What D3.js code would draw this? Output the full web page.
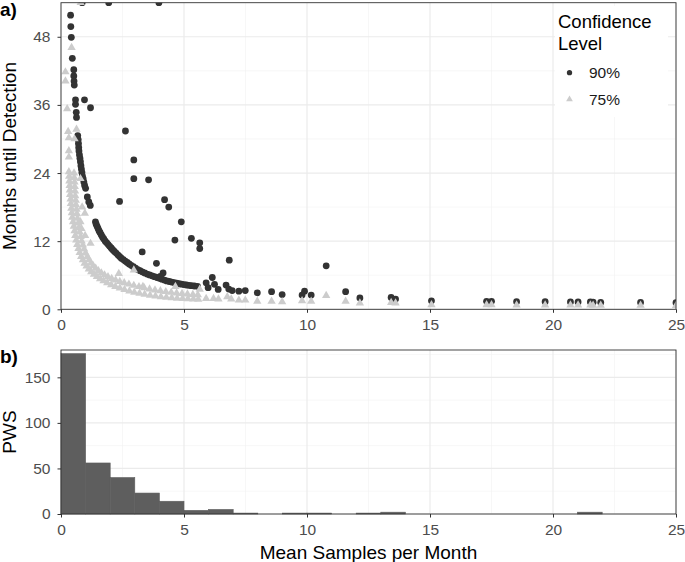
<!DOCTYPE html>
<html>
<head>
<meta charset="utf-8">
<script src="https://cdn.jsdelivr.net/npm/d3@7"></script>
<style>
  body { margin: 0; background: #fff; }
  text { font-family: "Liberation Sans", Arial, sans-serif; }
</style>
</head>
<body>
<div id="chart"></div>
<script>
// ---- data ----
// panel a: [mean samples per month, months until detection]
const points90 = [
  [0.86,54],[1.94,54],[3.98,54],
  [0.39,51.8],[0.40,49.8],[0.42,47.9],[0.46,44.2],[0.52,42.2],[0.52,41.1],[0.53,40.2],[0.54,39.5],
  [0.59,36.9],[0.59,36.1],[0.62,34.7],[0.63,33.8],[0.955,36.9],[1.2,35.5],[2.62,31.4],
  [0.68,30.6],[0.70,29.9],[0.71,29.2],[0.72,28.5],[0.73,27.9],[0.75,27.2],[0.77,26.6],[0.79,26.0],
  [0.81,25.3],[0.83,24.7],[0.85,24.1],[0.87,23.5],[0.90,23.0],[0.93,22.4],[0.96,21.8],[1.00,21.3],
  [1.07,19.8],[1.13,18.9],[1.19,18.3],
  [1.40,15.4],[1.43,15.0],[1.47,14.6],[1.51,14.2],[1.55,13.8],[1.59,13.5],[1.64,13.1],[1.69,12.7],
  [1.74,12.4],[1.80,12.0],[1.86,11.7],[1.92,11.4],[1.98,11.1],[2.04,10.8],[2.10,10.5],[2.17,10.2],
  [2.24,9.9],[2.31,9.6],[2.38,9.3],[2.45,9.0],[2.53,8.75],[2.61,8.5],[2.69,8.25],[2.77,8.0],
  [2.85,7.75],[2.94,7.5],[3.03,7.25],[3.12,7.0],[3.21,6.8],[3.30,6.6],[3.40,6.4],[3.50,6.2],
  [3.60,6.05],[3.70,5.9],[3.80,5.75],[3.90,5.6],[4.00,5.45],[4.10,5.3],[4.20,5.15],[4.30,5.0],
  [4.40,4.9],[4.50,4.8],[4.60,4.7],[4.70,4.6],[4.80,4.5],[4.90,4.42],[5.00,4.35],[5.10,4.28],
  [5.20,4.22],[5.30,4.16],[5.42,4.1],[5.55,4.05],
  [2.96,26.3],[2.96,23.0],[3.56,22.8],[2.38,19.0],[4.21,19.3],[4.38,18.0],[4.89,15.4],[4.63,12.2],
  [5.30,12.5],[5.64,11.7],[5.64,10.7],[3.30,10.1],[3.88,8.1],[4.15,6.4],[4.04,5.8],[6.84,8.65],
  [5.90,4.67],[5.98,3.8],[6.15,5.6],[6.24,4.4],[6.39,3.5],[6.71,4.26],[6.82,3.56],[6.96,3.3],
  [7.23,3.2],[7.49,3.3],[7.98,2.9],[8.56,3.1],[8.99,2.6],[9.90,3.2],[9.80,2.5],[10.17,2.5],
  [10.78,7.65],[11.57,3.1],[12.15,2.0],[13.42,2.1],[13.6,1.8],[15.06,1.5],[17.3,1.4],[17.5,1.4],
  [18.52,1.33],[19.68,1.33],[20.71,1.3],[21.02,1.3],[21.52,1.3],[21.63,1.25],[21.94,1.2],
  [23.56,1.2],[25.0,1.15]
];

const points75 = [
  [0.80,54],[0.43,46.1],[0.18,41.8],[0.18,40.2],[0.25,35.3],[0.29,31.3],[0.32,30.2],[0.63,31.7],
  [0.55,30.0],[0.32,27.9],[0.32,26.8],[0.79,23.0],[0.86,18.0],[0.97,16.9],[0.79,15.4],[0.83,14.2],
  [0.98,13.0],[1.2,11.6],[2.35,6.3],[2.96,6.9],[3.33,4.0],[4.65,4.0],[5.64,3.5],
  // lower edge of the dense band
  [0.32,24.2],[0.33,23.4],[0.34,22.6],[0.35,21.8],[0.36,21.0],[0.37,20.2],[0.39,19.4],[0.40,18.6],
  [0.42,17.8],[0.44,17.0],[0.46,16.2],[0.49,15.4],[0.52,14.6],[0.55,13.8],[0.58,13.0],[0.62,12.2],
  [0.66,11.4],[0.71,10.7],[0.76,10.0],[0.82,9.3],[0.89,8.7],[0.96,8.1],[1.04,7.6],[1.13,7.1],
  [1.23,6.6],[1.34,6.15],[1.46,5.75],[1.59,5.35],[1.73,5.0],[1.88,4.65],[2.04,4.3],[2.21,4.0],
  [2.39,3.72],[2.58,3.46],[2.78,3.22],[2.98,3.0],[3.19,2.8],[3.40,2.62],[3.62,2.46],[3.84,2.32],
  [4.06,2.2],[4.28,2.1],[4.50,2.02],[4.72,1.95],[4.94,1.89],[5.16,1.84],[5.38,1.8],[5.58,1.76],
  // upper edge of the dense band
  [0.53,24.0],[0.54,23.2],[0.55,22.4],[0.56,21.6],[0.57,20.8],[0.58,20.0],[0.60,19.2],[0.61,18.4],
  [0.63,17.6],[0.65,16.8],[0.67,16.0],[0.70,15.2],[0.73,14.4],[0.76,13.6],[0.80,12.8],[0.84,12.0],
  [0.89,11.3],[0.94,10.6],[1.00,9.9],[1.07,9.3],[1.14,8.7],[1.22,8.15],[1.31,7.65],[1.41,7.2],
  [1.52,6.8],[1.64,6.4],[1.77,6.05],[1.91,5.72],[2.06,5.42],[2.22,5.15],[2.39,4.9],[2.57,4.65],
  [2.76,4.42],[2.96,4.2],[3.17,3.98],[3.38,3.78],[3.60,3.58],[3.82,3.4],[4.04,3.24],[4.26,3.1],
  [4.48,2.97],[4.70,2.86],[4.92,2.76],[5.14,2.67],[5.36,2.6],[5.56,2.54],
  // sparse points to the right
  [5.9,1.9],[6.2,1.9],[6.4,1.8],[6.76,2.2],[6.92,1.8],[7.23,1.6],[7.49,1.6],[7.98,1.4],[8.56,1.4],
  [8.99,1.3],[9.8,1.5],[10.17,1.4],[10.78,2.4],[11.57,1.4],[12.15,1.1],[13.42,1.2],[13.6,1.1],
  [15.06,0.8],[17.3,0.8],[17.5,0.8],[18.52,0.75],[19.68,0.75],[20.71,0.75],[21.02,0.75],
  [21.52,0.75],[21.63,0.7],[21.94,0.7],[23.56,0.7],[25.0,0.65]
];

// panel b: histogram, bins of width 1 starting at 0
const binCounts = [176,56,40,23,14,4,5,1,0,1,1,0,1,2,0,0,0,0,0,0,0,2,0,0,0];

const xTicks = [0,5,10,15,20,25];
const xMinor = [2.5,7.5,12.5,17.5,22.5];
const yTicksA = [0,12,24,36,48];
const yMinorA = [6,18,30,42];
const yTicksB = [0,50,100,150];
const yMinorB = [25,75,125,175];

const legendItems = [
  {label: "90%", shape: "circle", color: "#333333"},
  {label: "75%", shape: "triangle", color: "#cccccc"}
];

// ---- layout ----
const width = 685, height = 562;
const left = 61, right = 676;
const a = {top: 2.7, bottom: 309.3};
const b = {top: 350, bottom: 514};

const svg = d3.select("#chart")
  .append("svg")
    .attr("width", width)
    .attr("height", height);

const x = d3.scaleLinear().domain([0, 25]).range([left, right]);
const yA = d3.scaleLinear().domain([0, 54]).range([a.bottom, a.top]);
const yB = d3.scaleLinear().domain([0, 180]).range([b.bottom, b.top]);

function grid(g, yScale, top, bottom, yMaj, yMin) {
  g.selectAll(".xmin").data(xMinor).enter().append("line")
    .attr("x1", d => x(d)).attr("x2", d => x(d)).attr("y1", top).attr("y2", bottom)
    .attr("stroke", "#f2f2f2").attr("stroke-width", 0.6);
  g.selectAll(".ymin").data(yMin).enter().append("line")
    .attr("x1", left).attr("x2", right).attr("y1", d => yScale(d)).attr("y2", d => yScale(d))
    .attr("stroke", "#f2f2f2").attr("stroke-width", 0.6);
  g.selectAll(".xmaj").data(xTicks).enter().append("line")
    .attr("x1", d => x(d)).attr("x2", d => x(d)).attr("y1", top).attr("y2", bottom)
    .attr("stroke", "#ebebeb").attr("stroke-width", 1.2);
  g.selectAll(".ymaj").data(yMaj).enter().append("line")
    .attr("x1", left).attr("x2", right).attr("y1", d => yScale(d)).attr("y2", d => yScale(d))
    .attr("stroke", "#ebebeb").attr("stroke-width", 1.2);
}

function styleAxis(g) {
  g.select(".domain").remove();
  g.selectAll(".tick line").attr("stroke", "#333");
  g.selectAll(".tick text")
    .attr("fill", "#4d4d4d")
    .attr("font-size", "15.5px")
    .attr("font-family", '"Liberation Sans", Arial, sans-serif');
}

// ---- panel a ----
grid(svg.append("g"), yA, a.top, a.bottom, yTicksA, yMinorA);

svg.append("clipPath").attr("id", "clipA")
  .append("rect")
    .attr("x", left).attr("y", a.top)
    .attr("width", right - left).attr("height", a.bottom - a.top);

const pts = svg.append("g").attr("clip-path", "url(#clipA)");
pts.selectAll(".p90").data(points90).enter().append("circle")
  .attr("cx", d => x(d[0]))
  .attr("cy", d => yA(d[1]))
  .attr("r", 3.4)
  .attr("fill", "#333333");

const tri = d3.symbol().type(d3.symbolTriangle).size(30);
pts.selectAll(".p75").data(points75).enter().append("path")
  .attr("d", tri)
  .attr("transform", d => `translate(${x(d[0])},${yA(d[1])})`)
  .attr("fill", "#cccccc");

svg.append("rect")
  .attr("x", left).attr("y", a.top)
  .attr("width", right - left).attr("height", a.bottom - a.top)
  .attr("fill", "none").attr("stroke", "#333").attr("stroke-width", 0.9);

svg.append("g")
  .attr("transform", `translate(0,${a.bottom})`)
  .call(d3.axisBottom(x).tickValues(xTicks).tickSize(3.5).tickPadding(6.2))
  .call(styleAxis);

svg.append("g")
  .attr("transform", `translate(${left},0)`)
  .call(d3.axisLeft(yA).tickValues(yTicksA).tickSize(3.5).tickPadding(7))
  .call(styleAxis);

// legend
const leg = svg.append("g");
leg.append("rect")
  .attr("x", 555).attr("y", 6).attr("width", 113).attr("height", 111)
  .attr("fill", "#fff");
leg.selectAll(".lt").data(["Confidence", "Level"]).enter().append("text")
  .attr("x", 558)
  .attr("y", (d, i) => 28.3 + i * 21.7)
  .attr("font-size", "18.5px")
  .attr("fill", "#000")
  .text(d => d);
const items = leg.selectAll(".li").data(legendItems).enter().append("g")
  .attr("transform", (d, i) => `translate(569.5,${72.7 + i * 26.6})`);
items.append("path")
  .attr("d", d => d.shape === "circle"
    ? d3.symbol().type(d3.symbolCircle).size(22)()
    : d3.symbol().type(d3.symbolTriangle).size(20)())
  .attr("fill", d => d.color);
items.append("text")
  .attr("x", 19.5).attr("y", 5.6)
  .attr("font-size", "15.5px")
  .attr("fill", "#1a1a1a")
  .text(d => d.label);

// ---- panel b ----
grid(svg.append("g"), yB, b.top, b.bottom, yTicksB, yMinorB);

svg.append("g").selectAll("rect").data(binCounts).enter().append("rect")
  .attr("x", (d, i) => x(i))
  .attr("width", (d, i) => x(i + 1) - x(i))
  .attr("y", d => yB(d))
  .attr("height", d => yB(0) - yB(d))
  .attr("fill", "#5e5e5e")
  .attr("stroke", d => d > 0 ? "#5e5e5e" : "none")
  .attr("stroke-width", 0.6);

svg.append("rect")
  .attr("x", left).attr("y", b.top)
  .attr("width", right - left).attr("height", b.bottom - b.top)
  .attr("fill", "none").attr("stroke", "#333").attr("stroke-width", 0.9);

svg.append("g")
  .attr("transform", `translate(0,${b.bottom})`)
  .call(d3.axisBottom(x).tickValues(xTicks).tickSize(3.5).tickPadding(6.5))
  .call(styleAxis);

svg.append("g")
  .attr("transform", `translate(${left},0)`)
  .call(d3.axisLeft(yB).tickValues(yTicksB).tickSize(3.5).tickPadding(7))
  .call(styleAxis);

// ---- titles ----
svg.append("text")
  .attr("transform", `translate(15.5,${(a.top + a.bottom) / 2}) rotate(-90)`)
  .attr("text-anchor", "middle")
  .attr("font-size", "19px")
  .text("Months until Detection");

svg.append("text")
  .attr("transform", `translate(15.5,${(b.top + b.bottom) / 2}) rotate(-90)`)
  .attr("text-anchor", "middle")
  .attr("font-size", "19px")
  .text("PWS");

svg.append("text")
  .attr("x", (left + right) / 2).attr("y", 559)
  .attr("text-anchor", "middle")
  .attr("font-size", "19px")
  .text("Mean Samples per Month");

svg.append("text")
  .attr("x", 0).attr("y", 16)
  .attr("font-size", "19px").attr("font-weight", "bold")
  .text("a)");

svg.append("text")
  .attr("x", 0).attr("y", 363)
  .attr("font-size", "19px").attr("font-weight", "bold")
  .text("b)");
</script>
</body>
</html>
